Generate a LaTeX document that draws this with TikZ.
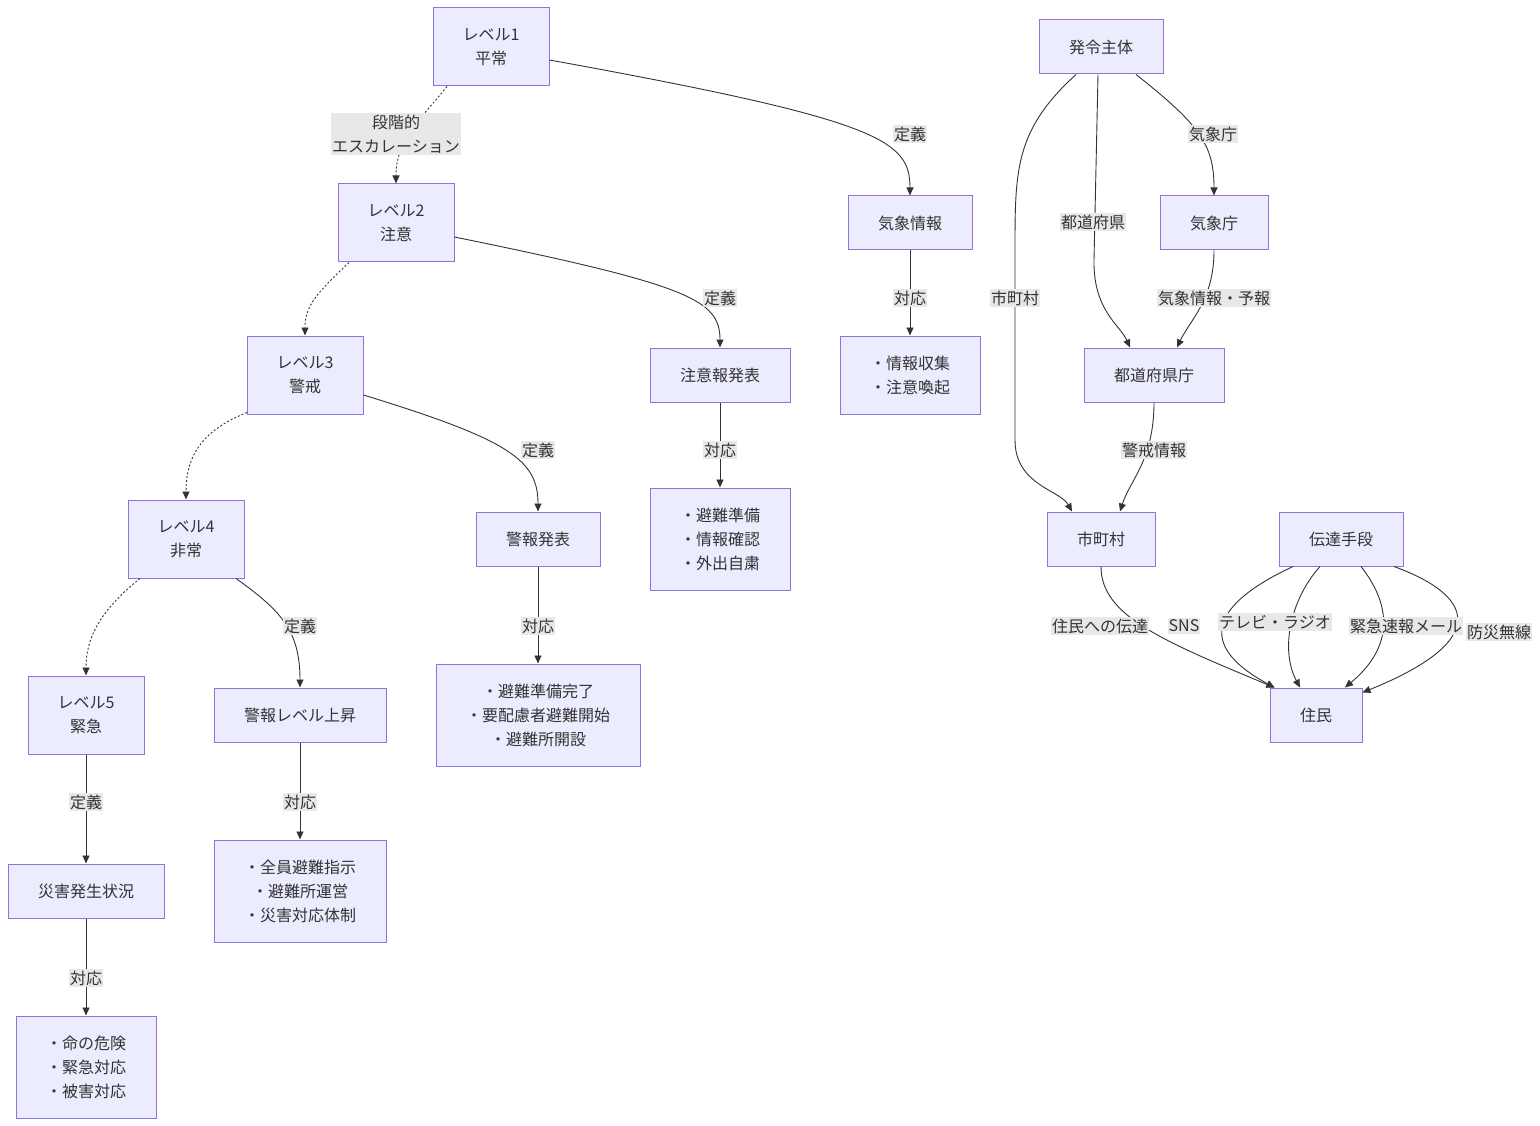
\documentclass[tikz,border=0pt]{standalone}
\usepackage{fontspec}
\setmainfont{Noto Sans CJK JP}
\usetikzlibrary{arrows.meta,calc}
\definecolor{nodefill}{HTML}{ECECFF}
\definecolor{nodeborder}{HTML}{9370DB}
\definecolor{edgecol}{HTML}{333333}
\definecolor{lblbg}{HTML}{E8E8E8}
\tikzset{
  box/.style={draw=nodeborder, fill=nodefill, line width=1pt, inner sep=0pt, align=center, text=edgecol,
    font=\fontsize{16}{24}\selectfont},
  lbl/.style={fill=lblbg, inner xsep=1pt, inner ysep=2pt, align=center, text=edgecol,
    font=\fontsize{16}{24}\selectfont},
  edge/.style={draw=edgecol, line width=0.9pt, -{Triangle[length=8pt,width=7pt]}},
  dotedge/.style={edge, dash pattern=on 2pt off 2pt},
}
\begin{document}
\begin{tikzpicture}[x=1pt,y=-1pt]
\useasboundingbox (0,0) rectangle (1540,1126);
% nodes
\node[box, minimum width=116, minimum height=78] (L1) at (491,47) {レベル1\\平常};
\node[box, minimum width=116, minimum height=78] (L2) at (396,223) {レベル2\\注意};
\node[box, minimum width=116, minimum height=78] (L3) at (305,375) {レベル3\\警戒};
\node[box, minimum width=116, minimum height=78] (L4) at (186,539) {レベル4\\非常};
\node[box, minimum width=116, minimum height=78] (L5) at (86,715) {レベル5\\緊急};
\node[box, minimum width=124, minimum height=54] (kisho) at (910,223) {気象情報};
\node[box, minimum width=140, minimum height=78] (r1) at (910,375) {・情報収集\\・注意喚起};
\node[box, minimum width=140, minimum height=54] (chui) at (720,375) {注意報発表};
\node[box, minimum width=140, minimum height=102] (r2) at (720,539) {・避難準備\\・情報確認\\・外出自粛};
\node[box, minimum width=124, minimum height=54] (keiho) at (538,539) {警報発表};
\node[box, minimum width=204, minimum height=102] (r3) at (538,715) {・避難準備完了\\・要配慮者避難開始\\・避難所開設};
\node[box, minimum width=172, minimum height=54] (joshou) at (300,715) {警報レベル上昇};
\node[box, minimum width=172, minimum height=102] (r4) at (300,891) {・全員避難指示\\・避難所運営\\・災害対応体制};
\node[box, minimum width=156, minimum height=54] (saigai) at (86,891) {災害発生状況};
\node[box, minimum width=140, minimum height=102] (r5) at (86,1067) {・命の危険\\・緊急対応\\・被害対応};
\node[box, minimum width=124, minimum height=54] (hatsu) at (1101,47) {発令主体};
\node[box, minimum width=108, minimum height=54] (jma) at (1214,223) {気象庁};
\node[box, minimum width=140, minimum height=54] (pref) at (1154,375) {都道府県庁};
\node[box, minimum width=108, minimum height=54] (city) at (1101,539) {市町村};
\node[box, minimum width=124, minimum height=54] (means) at (1341,539) {伝達手段};
\node[box, minimum width=92, minimum height=54] (jumin) at (1316,715) {住民};
% dotted escalation edges
\draw[dotedge] ($(L1.south)+(-44,0)$) .. controls (420,120) and (396,140) .. (L2.north);
\draw[dotedge] ($(L2.south)+(-47,0)$) .. controls (318,292) and (305,305) .. (L3.north);
\draw[dotedge] ($(L3.south)+(-58,-2)$) .. controls (198,432) and (186,460) .. (L4.north);
\draw[dotedge] ($(L4.south)+(-46,0)$) .. controls (98,612) and (86,640) .. (L5.north);
% definition edges
\draw[edge] ($(L1.east)+(0,13)$) .. controls (880,120) and (910,140) .. (kisho.north);
\draw[edge] ($(L2.east)+(0,14)$) .. controls (690,285) and (720,300) .. (chui.north);
\draw[edge] ($(L3.east)+(0,20)$) .. controls (510,440) and (538,460) .. (keiho.north);
\draw[edge] ($(L4.south)+(50,0)$) .. controls (280,610) and (300,630) .. (joshou.north);
\draw[edge] (L5.south) -- (saigai.north);
% response edges
\draw[edge] (kisho.south) -- (r1.north);
\draw[edge] (chui.south) -- (r2.north);
\draw[edge] (keiho.south) -- (r3.north);
\draw[edge] (joshou.south) -- (r4.north);
\draw[edge] (saigai.south) -- (r5.north);
% issuing bodies
\draw[edge] ($(hatsu.south)+(-25,0)$) .. controls (1015,130) and (1015,170) .. (1015,250) -- (1015,440) .. controls (1015,485) and (1060,490) .. ($(city.north)+(-29,0)$);
\draw[edge] ($(hatsu.south)+(-3,0)$) -- (1094,260) .. controls (1093,310) and (1120,325) .. ($(pref.north)+(-24,0)$);
\draw[edge] ($(hatsu.south)+(35,0)$) .. controls (1200,125) and (1214,145) .. (jma.north);
\draw[edge] (jma.south) .. controls (1214,300) and (1190,320) .. ($(pref.north)+(23,0)$);
\draw[edge] (pref.south) .. controls (1154,460) and (1130,480) .. ($(city.north)+(19,0)$);
\draw[edge] (city.south) .. controls (1101,615) and (1160,640) .. ($(jumin.north west)+(5,0)$);
\draw[edge] ($(means.south)+(-48,0)$) .. controls (1200,610) and (1205,650) .. ($(jumin.north west)+(5,0)$);
\draw[edge] ($(means.south)+(-21,0)$) .. controls (1290,600) and (1280,650) .. ($(jumin.north)+(-16,0)$);
\draw[edge] ($(means.south)+(20,0)$) .. controls (1395,610) and (1390,650) .. ($(jumin.north)+(29,0)$);
\draw[edge] ($(means.south)+(53,0)$) .. controls (1485,600) and (1480,645) .. ($(jumin.north east)+(0,5)$);
% labels
\node[lbl] (l1) at (396,134) {段階的\\エスカレーション};
\node[lbl] (l2) at (910,134) {定義};
\node[lbl] (l3) at (720,298) {定義};
\node[lbl] (l4) at (538,450) {定義};
\node[lbl] (l5) at (300,626) {定義};
\node[lbl] (l6) at (86,802) {定義};
\node[lbl] (l7) at (910,298) {対応};
\node[lbl] (l8) at (720,450) {対応};
\node[lbl] (l9) at (538,626) {対応};
\node[lbl] (l10) at (300,802) {対応};
\node[lbl] (l11) at (86,978) {対応};
\node[lbl] (l12) at (1015,298) {市町村};
\node[lbl] (l13) at (1093,222) {都道府県};
\node[lbl] (l14) at (1213,134) {気象庁};
\node[lbl] (l15) at (1214,298) {気象情報・予報};
\node[lbl] (l16) at (1154,450) {警戒情報};
\node[lbl] (l17) at (1100,626) {住民への伝達};
\node[lbl] (l18) at (1184,626) {SNS};
\node[lbl] (l19) at (1275,622) {テレビ・ラジオ};
\node[lbl] (l20) at (1406,626) {緊急速報メール};
\node[lbl] (l21) at (1499,632) {防災無線};
\end{tikzpicture}
\end{document}
